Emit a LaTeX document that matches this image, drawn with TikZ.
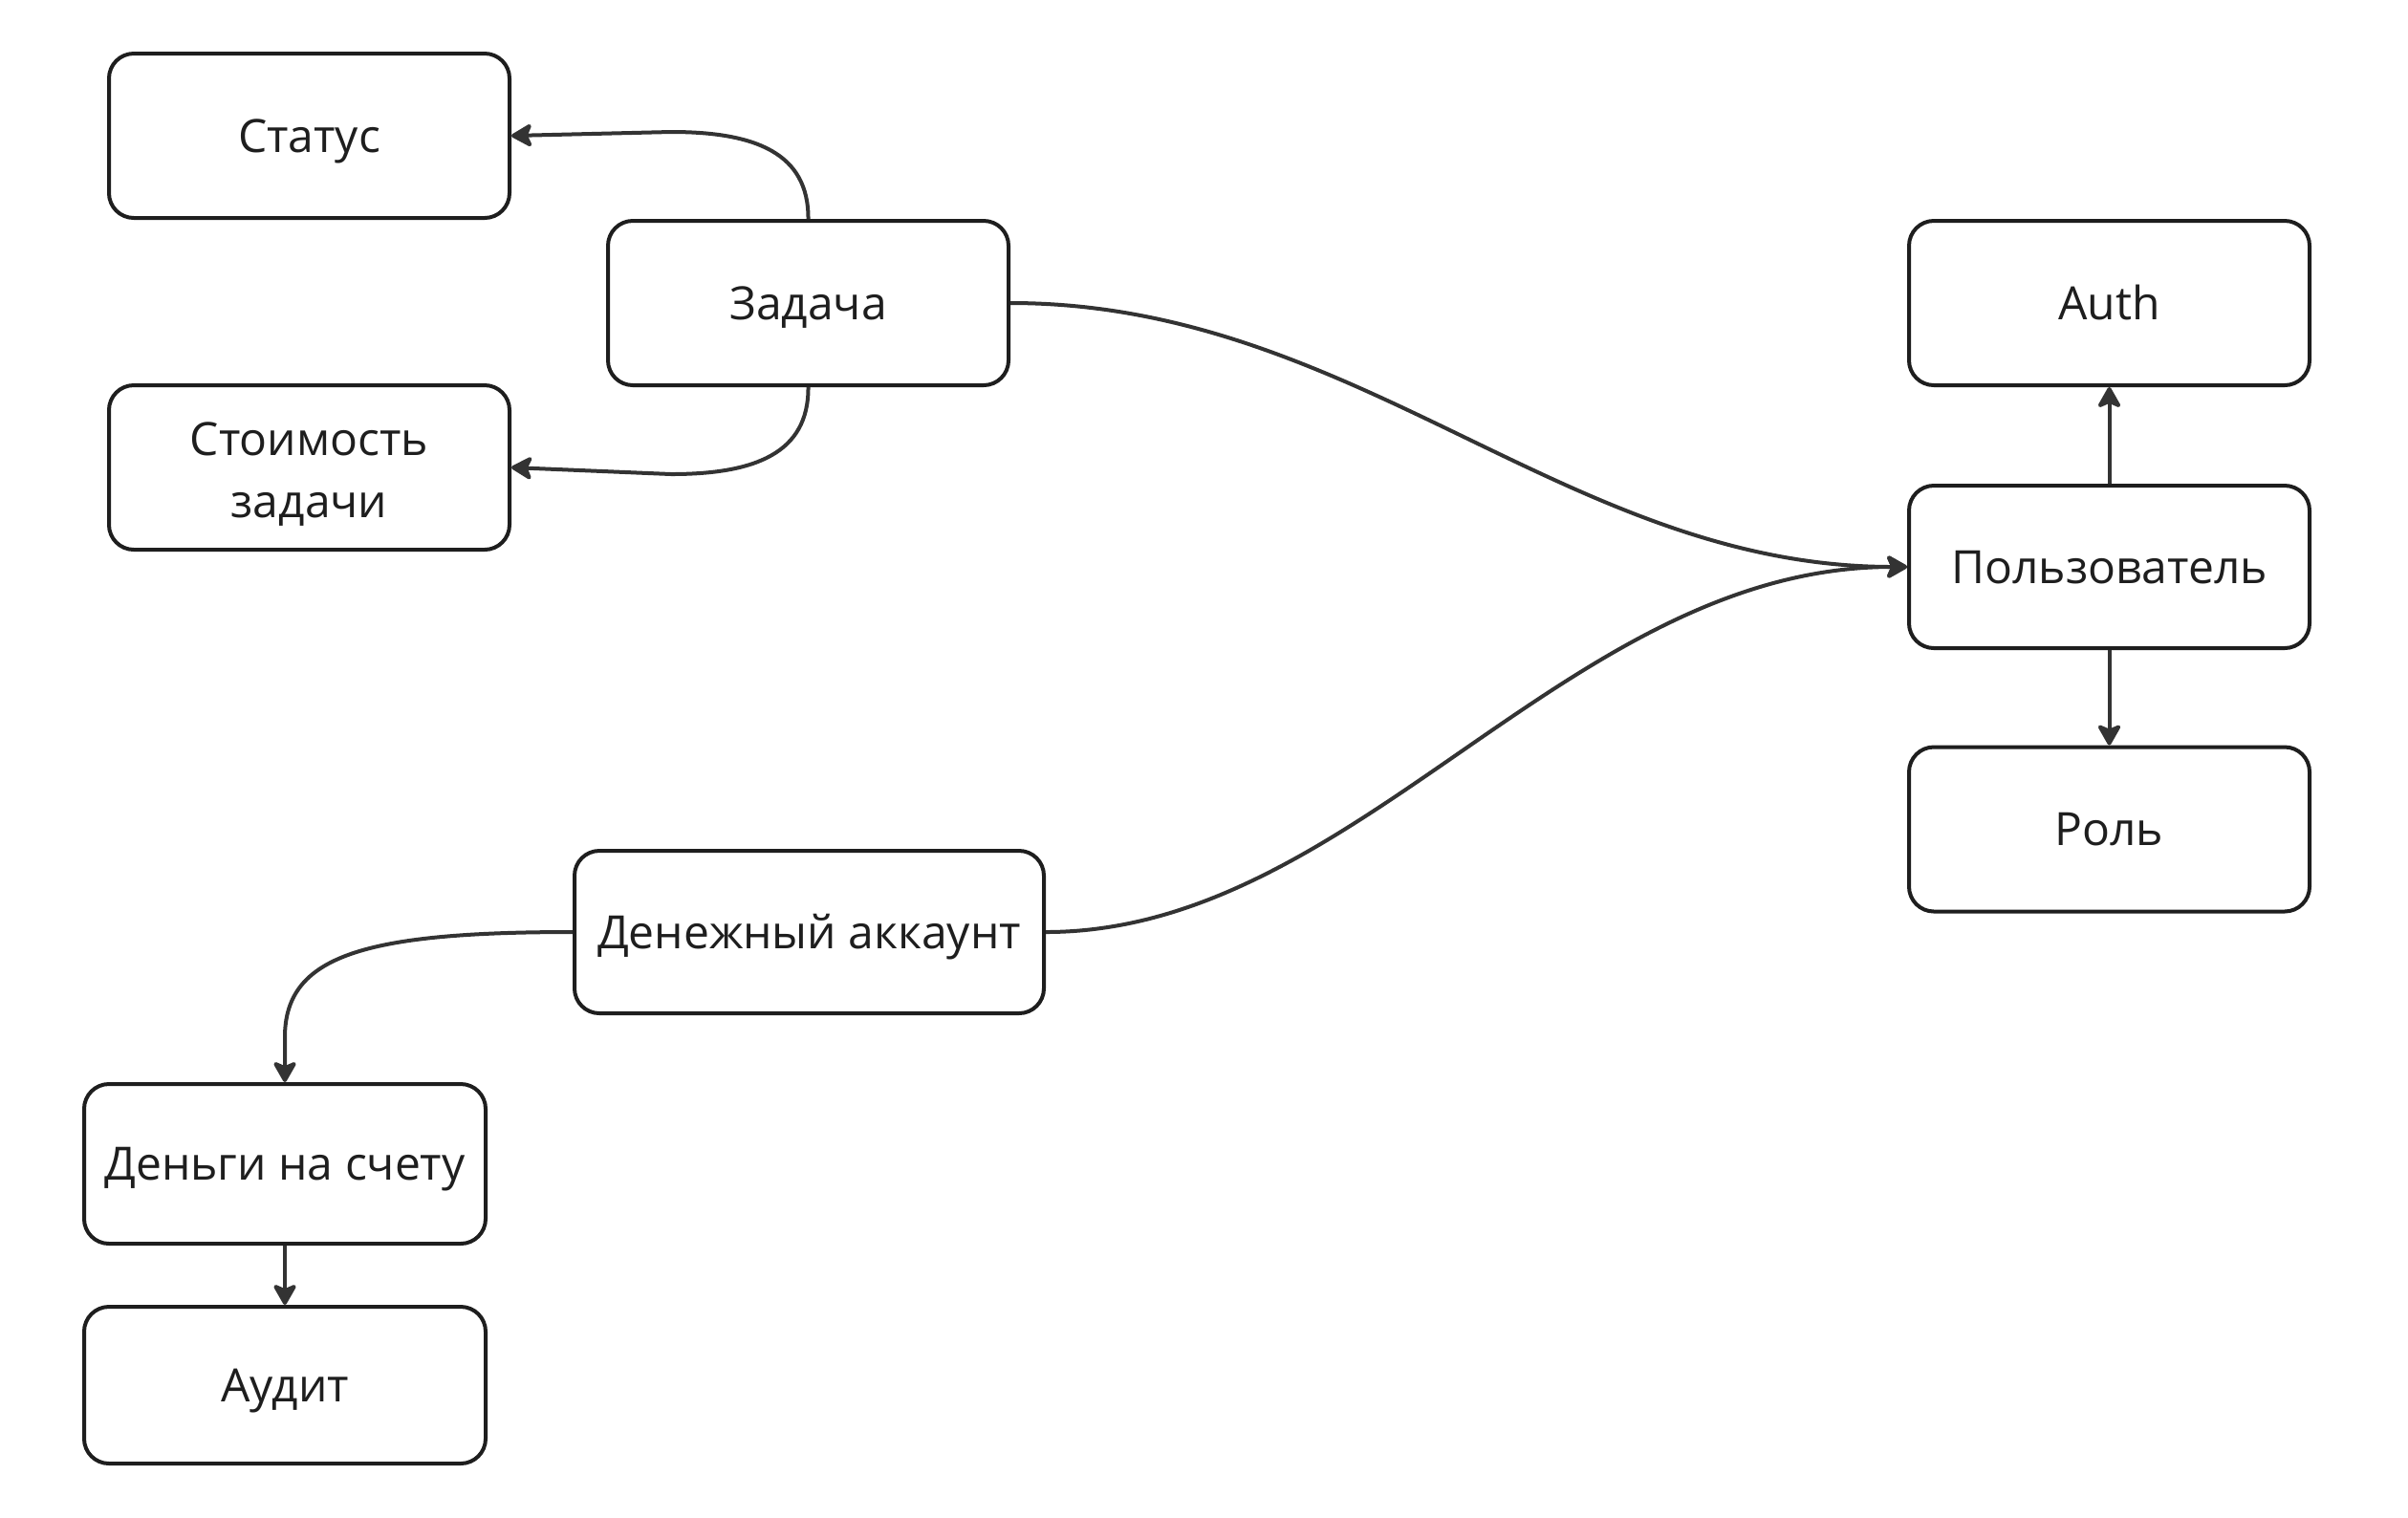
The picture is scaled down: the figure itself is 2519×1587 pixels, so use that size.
\documentclass[tikz,border=0pt]{standalone}
\usepackage{fontspec}
\setmainfont{Open Sans}
\usetikzlibrary{arrows.meta}
\definecolor{edgec}{HTML}{333333}
\definecolor{boxc}{HTML}{1E1E1E}
\begin{document}
\begin{tikzpicture}[x=0.5pt,y=-0.5pt,
  box/.style={draw=boxc, line width=2pt, rounded corners=13pt, fill=white,
    minimum width=209.5pt, minimum height=86pt, align=center, inner sep=0pt,
    text height=20.2pt, text depth=3pt,
    text=boxc, font=\fontsize{24}{32.5}\selectfont},
  conn/.style={draw=edgec, line width=2pt,
    -{Stealth[length=12.5pt,width=14pt,inset=3pt,round]}}]
\useasboundingbox (0,0) rectangle (2519,1587);
\fill[white] (0,0) rectangle (2519,1587);
% nodes
\node[box] (status) at (323.5,142) {Статус};
\node[box] (task) at (845.5,317) {Задача};
\node[box, text height=, text depth=] (cost) at (323.5,489) {\rule{0pt}{24pt}Стоимость\\задачи};
\node[box] (auth) at (2206.5,317) {Auth};
\node[box, minimum height=85pt] (user) at (2206.5,593) {Пользователь};
\node[box] (role) at (2206.5,867.5) {Роль};
\node[box, minimum width=245.5pt, minimum height=85pt] (macc) at (846.5,975) {Денежный аккаунт};
\node[box, minimum width=210pt, minimum height=83.5pt] (money) at (298,1217.5) {Деньги на счету};
\node[box, minimum width=210pt, minimum height=82pt] (audit) at (298,1449) {Аудит};
% connectors
\coordinate (c1) at (702,138);
\coordinate (c2) at (702,496);
\draw[conn] (task.north) .. controls (846,160) and (790,138) .. (c1) -- (status.east);
\draw[conn] (task.south) .. controls (846,474) and (790,496) .. (c2) -- (cost.east);
\draw[conn] (task.east) .. controls (1420,317) and (1640,593) .. (user.west);
\draw[conn] (macc.east) .. controls (1420,975) and (1640,593) .. (user.west);
\coordinate (c3) at (298,1085);
\draw[conn] (macc.west) .. controls (380,975) and (298,1000) .. (c3) -- (money.north);
\draw[conn] (user.north) -- (auth.south);
\draw[conn] (user.south) -- (role.north);
\draw[conn] (money.south) -- (audit.north);
\end{tikzpicture}
\end{document}
